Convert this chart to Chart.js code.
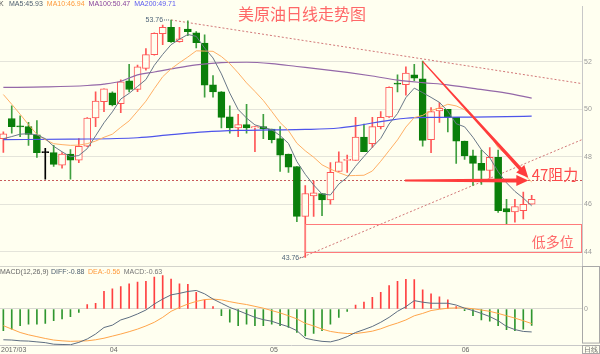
<!DOCTYPE html>
<html>
<head>
<meta charset="utf-8">
<script src="https://cdn.jsdelivr.net/npm/chart.js@4.4.0/dist/chart.umd.min.js"></script>
<style>
  html, body { margin: 0; padding: 0; background: #fffff0; }
  #wrap { width: 600px; height: 354px; }
</style>
</head>
<body>
<div id="wrap"><canvas id="kline" width="600" height="354"></canvas></div>
<script>
// daily WTI candles, mid March 2017 -> mid June 2017 (index = trading day)
const opens = [48.76,49.61,49.29,49.27,48.92,48.17,48.17,47.65,48.11,47.86, 48.44,49.63,50.32,50.69,50.23,51.20,50.83,51.72,52.30,53.18,
               53.45,52.85,53.38,53.22,52.79,51.03,50.73,49.68,49.21,49.35, 49.21,49.27,49.17,48.76,48.11,47.59,45.49,46.35,46.45,46.18,
               47.38,47.85,47.84,48.83,48.55,49.27,49.68,51.10,51.03,51.45, 51.28,48.72,49.93,50.00,49.66,48.66,48.04,47.72,47.42,47.97,
               45.82,45.68,45.73,46.00];
const highs = [49.05,50.14,49.72,49.45,49.52,48.35,48.48,48.17,48.30,48.76, 49.65,50.73,50.86,50.73,51.24,51.89,51.86,52.55,53.22,53.55,
               53.76,53.45,53.72,53.27,53.13,51.42,50.74,50.14,49.79,50.21, 49.27,49.79,49.17,49.27,48.11,47.59,46.79,46.97,46.45,47.75,
               48.21,48.07,49.66,49.38,49.66,49.90,50.94,51.45,51.79,51.89, 52.03,50.07,50.28,50.00,49.66,48.66,48.28,48.28,48.39,48.28,
               46.21,46.21,46.51,46.37];
const lows = [48.18,48.99,48.85,48.48,47.97,47.06,47.59,47.52,47.06,47.75, 48.42,49.27,49.90,50.14,49.86,50.73,50.74,51.65,52.28,52.72,
              52.81,52.83,53.10,52.58,50.51,50.51,49.21,48.99,48.85,48.99, 48.21,48.76,48.58,47.38,47.34,45.27,43.76,45.49,45.52,46.00,
              47.38,47.34,47.84,48.21,48.39,49.17,49.66,50.73,50.59,51.20, 48.44,48.17,49.45,49.04,47.72,47.89,46.79,46.83,47.10,45.66,
              45.17,45.24,45.38,46.00];
const closes = [48.97,49.27,49.26,48.94,48.17,48.17,47.68,48.11,47.86,48.44, 49.63,50.34,50.86,50.18,51.15,50.83,51.79,52.30,53.20,53.45,
                52.85,52.97,53.27,52.80,51.01,50.73,49.66,49.21,49.35,49.21, 49.27,49.17,48.72,48.07,47.56,45.49,46.45,46.48,46.18,47.34,
                47.79,47.88,48.83,48.21,49.27,49.66,50.92,51.06,51.52,51.31, 48.69,49.90,50.04,49.66,48.66,48.03,47.72,47.42,47.97,45.73,
                45.68,45.90,46.00,46.21];

const ma5 = [48.76,48.85,48.95,48.97,48.92,48.76,48.44,48.21,48.00,48.05, 48.34,48.88,49.43,49.89,50.43,50.67,50.96,51.25,51.85,52.31,
             52.72,52.95,53.15,53.07,52.58,52.16,51.49,50.68,49.99,49.63, 49.34,49.24,49.14,48.89,48.56,47.80,47.26,46.81,46.43,46.39,
             46.85,47.13,47.60,48.01,48.40,48.77,49.38,49.82,50.49,50.89, 50.70,50.50,50.29,49.92,49.39,49.26,48.82,48.30,47.96,47.37,
             46.90,46.54,46.26,45.93];
const ma10 = [50.62,50.21,49.79,49.35,48.94,48.72,48.55,48.51,48.48,48.49, 48.55,48.66,48.82,48.95,49.24,49.51,49.92,50.34,50.87,51.37,
              51.70,51.96,52.20,52.46,52.45,52.44,52.22,51.92,51.53,51.11, 50.75,50.37,49.91,49.44,49.10,48.57,48.25,47.98,47.66,47.48,
              47.33,47.20,47.21,47.22,47.40,47.81,48.26,48.71,49.25,49.65, 49.74,49.94,50.06,50.21,50.14,49.98,49.66,49.30,48.94,48.38,
              48.08,47.68,47.28,46.94];
// long averages at a few days only
const ma100Days = [0,5,10,12,14,16,18,20,23,26,29,32,35,38,41,44,47,50,53,56,60,63];
const ma100 = [50.92,50.94,51.00,51.06,51.18,51.45,51.57,51.70,51.87,51.96,51.98,51.92,51.80,51.68,51.55,51.40,51.23,51.12,51.03,50.88,50.68,50.47];
const ma200Days = [0,8,16,20,24,28,32,36,40,42,44,46,48,52,56,60,63];
const ma200 = [48.72,48.74,48.80,48.93,49.05,49.11,49.13,49.15,49.21,49.30,49.42,49.53,49.62,49.66,49.67,49.69,49.71];

const diff = [-1.18,-1.19,-1.22,-1.23,-1.26,-1.29,-1.35,-1.36,-1.37,-1.28, -1.15,-0.96,-0.71,-0.62,-0.42,-0.32,-0.19,-0.04,0.19,0.38,
              0.54,0.60,0.67,0.71,0.58,0.38,0.22,0.06,-0.06,-0.19, -0.32,-0.41,-0.47,-0.58,-0.68,-0.83,-1.12,-1.19,-1.24,-1.26,
              -1.18,-1.06,-0.90,-0.79,-0.67,-0.51,-0.32,-0.09,0.09,0.32, 0.26,0.22,0.22,0.22,0.15,0.03,-0.06,-0.17,-0.29,-0.45,
              -0.67,-0.79,-0.86,-0.88];
const dea = [-0.64,-0.77,-0.90,-0.99,-1.06,-1.13,-1.19,-1.22,-1.24,-1.23, -1.22,-1.18,-1.12,-1.04,-0.96,-0.87,-0.77,-0.65,-0.51,-0.32,
             -0.09,0.06,0.19,0.29,0.36,0.38,0.35,0.28,0.22,0.17, 0.10,0.03,-0.06,-0.15,-0.26,-0.38,-0.55,-0.65,-0.77,-0.86,
             -0.91,-0.94,-0.94,-0.90,-0.85,-0.76,-0.64,-0.54,-0.42,-0.26, -0.17,-0.06,-0.01,0.03,0.04,0.04,0.01,-0.04,-0.09,-0.17,
             -0.26,-0.35,-0.45,-0.56];
const macdBars = [-0.83,-0.77,-0.64,-0.58,-0.58,-0.55,-0.45,-0.38,-0.29,-0.13, 0.17,0.22,0.68,0.77,0.86,0.96,1.03,1.06,1.22,1.28,
                  1.15,0.96,0.94,0.64,0.35,0.09,-0.26,-0.51,-0.64,-0.58, -0.64,-0.64,-0.58,-0.64,-0.71,-0.90,-1.03,-0.94,-0.83,-0.58,
                  -0.32,-0.09,0.15,0.26,0.45,0.64,0.90,1.06,1.14,1.13, 0.73,0.58,0.47,0.35,0.09,-0.06,-0.26,-0.42,-0.47,-0.64,
                  -0.79,-0.83,-0.77,-0.63];

const priceTicks = [44, 46, 48, 50, 52];
const monthTicks = [-0.28, 12.7, 31.8, 54.65];
const monthLabels = ['2017/03', '04', '05', '06'];

const maNames = ['MA5', 'MA10', 'MA100', 'MA200'];
const maLast = ['45.93', '46.94', '50.47', '49.71'];
const macdNames = ['DIFF', 'DEA', 'MACD'];
const macdLast = ['-0.88', '-0.56', '-0.63'];

// drawn guides, in (day, price)
const trendDown = [[20, 53.76], [69, 51.08]];
const trendUp = [[35.3, 43.72], [69, 48.72]];
const resistLevel = 47;
const arrowDiag = [[50, 52.02], [62.6, 47.12]];
const arrowFlat = [[47.9, 47.0], [62.6, 47.0]];
const zoneDays = [36, 69];
const zonePrice = [43.97, 45.15];

const BG = '#fffff0';
const RED = '#ff5656';
const GREEN = '#0a7f0a';
const SMALL = '7px "Liberation Sans", Arial, sans-serif';
const CJK = '"Noto Sans CJK SC", sans-serif';

const dir = closes.map((c, i) => c > opens[i] ? 1 : (c < opens[i] ? -1 : 0));
const bodyFill = dir.map(d => d > 0 ? BG : (d < 0 ? GREEN : '#000'));
const bodyLine = dir.map(d => d > 0 ? RED : (d < 0 ? GREEN : '#000'));
const wickCol = dir.map(d => d > 0 ? RED : (d < 0 ? '#3f9f3f' : '#000'));

function arrow(ctx, x0, y0, x1, y1, w0, w1) {
  const a = Math.atan2(y1 - y0, x1 - x0);
  const head = 12, hw = 5.5;
  const bx = x1 - head * Math.cos(a), by = y1 - head * Math.sin(a);
  const nx = -Math.sin(a), ny = Math.cos(a);
  ctx.beginPath();
  ctx.moveTo(x0 + nx * w0 / 2, y0 + ny * w0 / 2);
  ctx.lineTo(bx + nx * w1 / 2, by + ny * w1 / 2);
  ctx.lineTo(bx + nx * hw, by + ny * hw);
  ctx.lineTo(x1, y1);
  ctx.lineTo(bx - nx * hw, by - ny * hw);
  ctx.lineTo(bx - nx * w1 / 2, by - ny * w1 / 2);
  ctx.lineTo(x0 - nx * w0 / 2, y0 - ny * w0 / 2);
  ctx.closePath();
  ctx.fill();
}

const overlay = {
  id: 'overlay',
  beforeDraw(chart) {
    const ctx = chart.ctx;
    ctx.save();
    ctx.fillStyle = BG;
    ctx.fillRect(0, 0, chart.width, chart.height);
    ctx.restore();
  },
  beforeDatasetsDraw(chart) {
    const {ctx, chartArea: a} = chart;
    const xs = chart.scales.x, ys = chart.scales.y, ms = chart.scales.macdY;
    const px = v => xs.getPixelForValue(v), py = v => ys.getPixelForValue(v);
    ctx.save();
    ctx.strokeStyle = '#d4d4cc';
    ctx.lineWidth = 1;
    ctx.beginPath();
    ctx.moveTo(a.left, Math.round(ms.top) + 0.5);
    ctx.lineTo(a.right, Math.round(ms.top) + 0.5);
    ctx.stroke();

    ctx.setLineDash([2, 2]);
    ctx.strokeStyle = '#c85a5a';
    ctx.beginPath();
    ctx.moveTo(a.left, Math.round(py(resistLevel)) + 0.5);
    ctx.lineTo(a.right, Math.round(py(resistLevel)) + 0.5);
    ctx.stroke();
    ctx.strokeStyle = '#d27878';
    for (const seg of [trendDown, trendUp]) {
      ctx.beginPath();
      ctx.moveTo(px(seg[0][0]), py(seg[0][1]));
      ctx.lineTo(px(seg[1][0]), py(seg[1][1]));
      ctx.stroke();
    }
    ctx.restore();
  },
  afterDatasetsDraw(chart) {
    const ctx = chart.ctx;
    const xs = chart.scales.x, ys = chart.scales.y;
    const px = v => xs.getPixelForValue(v), py = v => ys.getPixelForValue(v);
    ctx.save();
    // support zone
    ctx.strokeStyle = '#ff7b7b';
    ctx.lineWidth = 1;
    const zx0 = Math.round(px(zoneDays[0])) + 0.5, zx1 = Math.round(px(zoneDays[1])) - 0.5;
    const zy0 = Math.round(py(zonePrice[1])) + 0.5, zy1 = Math.round(py(zonePrice[0])) + 0.5;
    ctx.strokeRect(zx0, zy0, zx1 - zx0, zy1 - zy0);

    // arrows
    ctx.fillStyle = '#ff3c3c';
    arrow(ctx, px(arrowDiag[0][0]), py(arrowDiag[0][1]), px(arrowDiag[1][0]), py(arrowDiag[1][1]), 1.2, 3.4);
    arrow(ctx, px(arrowFlat[0][0]), py(arrowFlat[0][1]), px(arrowFlat[1][0]), py(arrowFlat[1][1]), 2, 4);

    // texts on the chart
    ctx.textBaseline = 'middle';
    ctx.textAlign = 'left';
    ctx.fillStyle = '#ff4a4a';
    ctx.font = '15px ' + CJK;
    ctx.fillText('47阻力', px(63.0), py(47.24));
    ctx.fillStyle = '#ff6a6a';
    ctx.font = '14px ' + CJK;
    ctx.fillText('低多位', px(63.0), py(44.42));

    // high / low marks
    const hiDay = highs.indexOf(Math.max(...highs));
    const loDay = lows.indexOf(Math.min(...lows));
    ctx.font = SMALL;
    ctx.fillStyle = '#4f6478';
    ctx.textAlign = 'right';
    ctx.fillText(highs[hiDay].toFixed(2), px(hiDay) - 8, py(highs[hiDay]) + 0.5);
    ctx.fillText(lows[loDay].toFixed(2), px(loDay) - 6, py(lows[loDay]) + 0.5);
    ctx.strokeStyle = '#4f6478';
    ctx.setLineDash([1, 1]);
    ctx.beginPath();
    ctx.moveTo(px(hiDay) - 7, py(highs[hiDay]));
    ctx.lineTo(px(hiDay) - 1, py(highs[hiDay]));
    ctx.moveTo(px(loDay) - 5, py(lows[loDay]));
    ctx.lineTo(px(loDay) - 1, py(lows[loDay]));
    ctx.stroke();
    ctx.restore();
  },
  afterDraw(chart) {
    const {ctx, chartArea: a} = chart;
    const ms = chart.scales.macdY;
    ctx.save();
    ctx.textBaseline = 'middle';
    ctx.textAlign = 'left';
    // title
    ctx.font = '16px ' + CJK;
    ctx.fillStyle = '#ff6868';
    ctx.fillText('美原油日线走势图', 238, 14);

    // moving-average legend
    ctx.font = SMALL;
    const maCols = ['#4f6070', '#ff9a3c', '#86409a', '#5a5af0'];
    ctx.fillStyle = '#555';
    ctx.fillText('K', -1, 4.5);
    let lx = 9;
    maNames.forEach((n, i) => {
      const t = n + ':' + maLast[i];
      ctx.fillStyle = maCols[i];
      ctx.fillText(t, lx, 4.5);
      lx += ctx.measureText(t).width + 4;
    });

    // macd legend
    const ly = ms.top + 6;
    ctx.fillStyle = '#666';
    ctx.fillText('MACD(12,26,9)', 0, ly);
    lx = 51;
    const mCols = ['#4f6070', '#ff9a3c', '#777'];
    macdNames.forEach((n, i) => {
      const t = n + ':' + macdLast[i];
      ctx.fillStyle = mCols[i];
      ctx.fillText(t, lx, ly);
      lx += ctx.measureText(t).width + 3.5;
    });

    // side boxes
    ctx.strokeStyle = '#a8a8a8';
    ctx.lineWidth = 1;
    ctx.strokeRect(Math.round(a.right) + 0.5, Math.round(ms.top) + 0.5, chart.width - a.right - 1, ms.bottom - ms.top - 2);
    ctx.strokeRect(Math.round(a.right) + 0.5, Math.round(a.bottom) + 0.5, chart.width - a.right - 1, chart.height - a.bottom - 1);
    ctx.fillStyle = '#666';
    ctx.fillText('日线', a.right + 2, a.bottom + 5);
    ctx.restore();
  }
};

const days = closes.map((c, i) => i);

new Chart(document.getElementById('kline').getContext('2d'), {
  data: {
    datasets: [
      {
        type: 'line', label: 'MA5', yAxisID: 'y', order: 1,
        data: days.map(i => ({x: i, y: ma5[i]})),
        borderColor: '#6a7888', borderWidth: 1, pointRadius: 0
      },
      {
        type: 'line', label: 'MA10', yAxisID: 'y', order: 2,
        data: days.map(i => ({x: i, y: ma10[i]})),
        borderColor: '#ffb066', borderWidth: 1, pointRadius: 0
      },
      {
        type: 'line', label: 'MA100', yAxisID: 'y', order: 3,
        data: ma100Days.map((d, k) => ({x: d, y: ma100[k]})),
        borderColor: '#9468a8', borderWidth: 1.2, pointRadius: 0, cubicInterpolationMode: 'monotone'
      },
      {
        type: 'line', label: 'MA200', yAxisID: 'y', order: 3,
        data: ma200Days.map((d, k) => ({x: d, y: ma200[k]})),
        borderColor: '#4e54ea', borderWidth: 1.2, pointRadius: 0, cubicInterpolationMode: 'monotone'
      },
      {
        type: 'bar', label: 'body', yAxisID: 'y', order: 4, grouped: false,
        data: days.map(i => ({x: i, y: [Math.min(opens[i], closes[i]), Math.max(opens[i], closes[i])]})),
        backgroundColor: bodyFill, borderColor: bodyLine, borderWidth: 1,
        borderSkipped: false, barThickness: 7, minBarLength: 1
      },
      {
        type: 'bar', label: 'wick', yAxisID: 'y', order: 5, grouped: false,
        data: days.map(i => ({x: i, y: [lows[i], highs[i]]})),
        backgroundColor: wickCol, barThickness: 1
      },
      {
        type: 'line', label: 'DIFF', yAxisID: 'macdY', order: 1,
        data: days.map(i => ({x: i, y: diff[i]})),
        borderColor: '#5d6d80', borderWidth: 1, pointRadius: 0
      },
      {
        type: 'line', label: 'DEA', yAxisID: 'macdY', order: 1,
        data: days.map(i => ({x: i, y: dea[i]})),
        borderColor: '#ffa54a', borderWidth: 1, pointRadius: 0
      },
      {
        type: 'bar', label: 'MACD', yAxisID: 'macdY', order: 6, grouped: false,
        data: days.map(i => ({x: i, y: macdBars[i]})),
        backgroundColor: macdBars.map(v => v >= 0 ? '#ff4040' : '#2f962f'),
        barThickness: 1
      }
    ]
  },
  options: {
    responsive: false,
    animation: false,
    events: [],
    layout: { padding: 0 },
    plugins: { legend: { display: false }, tooltip: { enabled: false } },
    scales: {
      x: {
        type: 'linear', min: -0.4, max: 69, offset: false,
        grid: { display: false, drawTicks: false },
        border: { color: '#c8c8c8' },
        afterBuildTicks: s => { s.ticks = monthTicks.map(v => ({value: v})); },
        afterFit: s => { s.height = 9; },
        ticks: {
          autoSkip: false, maxRotation: 0, align: 'start', padding: 1,
          color: '#666', font: { size: 7, family: '"Liberation Sans", Arial, sans-serif' },
          callback: (v, i) => monthLabels[i]
        }
      },
      y: {
        position: 'right', stack: 'panes', stackWeight: 265,
        min: 43.38, max: 54.34,
        afterBuildTicks: s => { s.ticks = priceTicks.map(v => ({value: v})); },
        afterFit: s => { s.width = 18; },
        grid: { color: '#e4e4da', drawTicks: false },
        border: { color: '#c8c8c8' },
        ticks: { padding: 2, color: '#9a9a9a', font: { size: 7, family: '"Liberation Sans", Arial, sans-serif' } }
      },
      macdY: {
        position: 'right', stack: 'panes', stackWeight: 80,
        min: -1.38, max: 1.63,
        afterBuildTicks: s => { s.ticks = [{value: 0}]; },
        afterFit: s => { s.width = 18; },
        grid: { color: '#dadad2', drawTicks: false },
        border: { display: false },
        ticks: { padding: 2, color: '#9a9a9a', font: { size: 7, family: '"Liberation Sans", Arial, sans-serif' } }
      }
    }
  },
  plugins: [overlay]
});
</script>
</body>
</html>
